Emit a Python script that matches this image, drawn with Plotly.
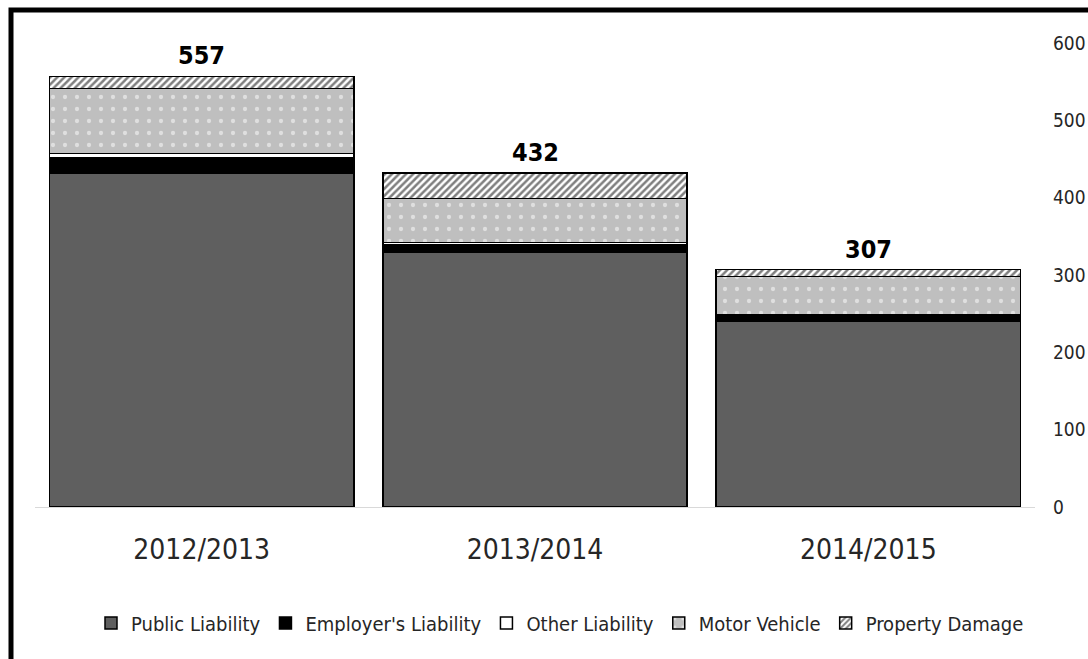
import plotly.graph_objects as go

categories = ["2012/2013", "2013/2014", "2014/2015"]
public_liability = [432, 330, 240]
employers_liability = [20, 9, 8]
other_liability = [5, 3, 0]
motor_vehicle = [84, 57, 50]
property_damage = [16, 33, 9]
totals = [557, 432, 307]
y_ticks = [0, 100, 200, 300, 400, 500, 600]

FONT = "DejaVu Sans Condensed, Liberation Sans Narrow, Liberation Sans, sans-serif"
outline = dict(color="black", width=1.5)

fig = go.Figure()
fig.add_trace(go.Bar(name="Public Liability", x=categories, y=public_liability,
                     marker=dict(color="#5f5f5f", line=outline)))
fig.add_trace(go.Bar(name="Employer's Liability", x=categories, y=employers_liability,
                     marker=dict(color="#000000", line=outline)))
fig.add_trace(go.Bar(name="Other Liability", x=categories, y=other_liability,
                     marker=dict(color="#ffffff", line=outline)))
fig.add_trace(go.Bar(name="Motor Vehicle", x=categories, y=motor_vehicle,
                     marker=dict(color="#bfbfbf", line=outline,
                                 pattern=dict(shape=".", fgcolor="#ffffff", bgcolor="#bfbfbf",
                                              size=12, solidity=0.1, fillmode="overlay"))))
fig.add_trace(go.Bar(name="Property Damage", x=categories, y=property_damage,
                     marker=dict(color="#ffffff", line=outline,
                                 pattern=dict(shape="/", fgcolor="#000000", bgcolor="#ffffff",
                                              size=5, solidity=0.5, fillmode="overlay"))))

for c, t in zip(categories, totals):
    fig.add_annotation(x=c, y=t, text=f"<b>{t}</b>", showarrow=False, yanchor="bottom",
                       yshift=4, font=dict(family=FONT, size=25, color="black"))

# outer frame (partly cut off at right/bottom like the reference)
fig.add_shape(type="rect", xref="paper", yref="paper", x0=-0.024, x1=1.07, y0=-0.4, y1=1.071,
              line=dict(color="black", width=5), fillcolor="rgba(0,0,0,0)", layer="above")

fig.update_layout(
    barmode="stack",
    bargap=0.087,
    width=1088, height=659,
    margin=dict(l=35, r=53, t=43, b=152, autoexpand=False),
    paper_bgcolor="white", plot_bgcolor="white",
    font=dict(family=FONT, color="#262626"),
    showlegend=True,
    legend=dict(orientation="h", x=0.525, xanchor="center", y=-0.25, yanchor="middle",
                font=dict(family=FONT, size=20, color="#262626"), traceorder="normal",
                itemwidth=30),
    xaxis=dict(showgrid=False, showline=True, linecolor="#d9d9d9", linewidth=1,
               tickfont=dict(family=FONT, size=28, color="#262626"), ticks="",
               ticklabelstandoff=17, automargin=False),
    yaxis=dict(side="right", range=[0, 600], tickvals=y_ticks, showgrid=False,
               zeroline=False, showline=False, ticks="",
               tickfont=dict(family=FONT, size=19, color="#262626"),
               ticklabelstandoff=17, automargin=False),
)

fig.write_html("out.html")
